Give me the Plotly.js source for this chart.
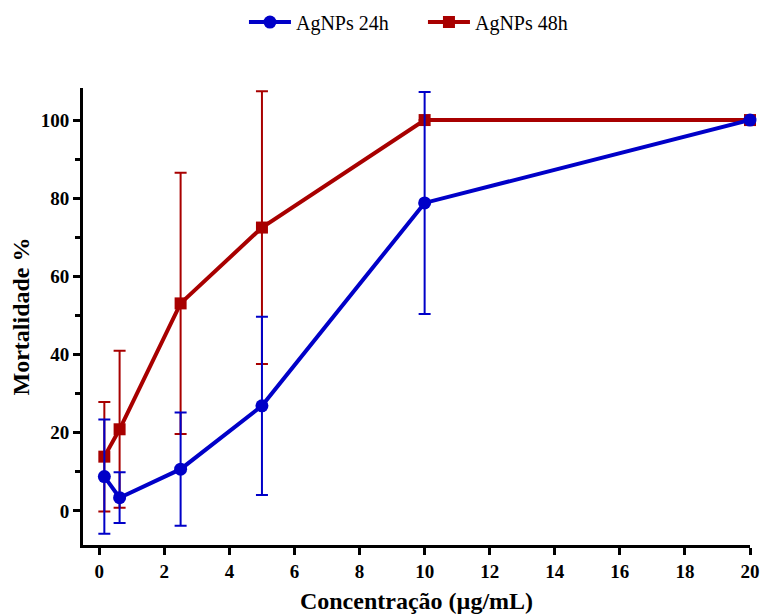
<!DOCTYPE html>
<html>
<head>
<meta charset="utf-8">
<script src="https://cdn.plot.ly/plotly-3.0.1.min.js"></script>
<style>html,body{margin:0;padding:0;background:#fff}#chart{width:760px;height:614px}</style>
</head>
<body>
<div id="chart"></div>
<script>
const concentrations = [0.156, 0.625, 2.5, 5, 10, 20];
const mort24 = [8.8, 3.4, 10.7, 26.9, 78.8, 100];
const err24 = [14.6, 6.5, 14.5, 22.8, 28.4, 0];
const mort48 = [13.9, 20.9, 53.1, 72.5, 100, 100];
const err48 = [14.0, 20.1, 33.4, 34.9, 0, 0];
const yTicks = [0, 20, 40, 60, 80, 100];
const xTicks = [0, 2, 4, 6, 8, 10, 12, 14, 16, 18, 20];

const blue = '#0000C8';
const red = '#A80000';
const font = 'Liberation Serif, Times New Roman, serif';

const traces = [
  {
    x: concentrations, y: mort48, name: 'AgNPs 48h', type: 'scatter', mode: 'lines+markers',
    line: {color: red, width: 4}, marker: {symbol: 'square', size: 12, color: red},
    error_y: {type: 'data', array: err48, visible: true, color: red, thickness: 2, width: 6},
    cliponaxis: false, legendrank: 2
  },
  {
    x: concentrations, y: mort24, name: 'AgNPs 24h', type: 'scatter', mode: 'lines+markers',
    line: {color: blue, width: 4}, marker: {symbol: 'circle', size: 13, color: blue},
    error_y: {type: 'data', array: err24, visible: true, color: blue, thickness: 2, width: 6},
    cliponaxis: false, legendrank: 1
  }
];

const layout = {
  width: 760, height: 614,
  margin: {l: 83, r: 10, t: 88, b: 69, autoexpand: false},
  paper_bgcolor: '#fff', plot_bgcolor: '#fff',
  font: {family: font, color: '#000'},
  showlegend: true,
  legend: {orientation: 'h', x: 0.321, xref: 'container', xanchor: 'left', y: 0.964, yref: 'container', yanchor: 'middle',
           font: {family: font, size: 20, color: '#000'}, itemwidth: 42, entrywidth: 122, entrywidthmode: 'pixels', traceorder: 'normal'},
  xaxis: {
    range: [-0.5, 20], tickvals: xTicks, ticktext: xTicks.map(String),
    showgrid: false, zeroline: false, showline: true, linecolor: '#000', linewidth: 3,
    ticks: 'outside', ticklen: 7, tickwidth: 3, tickcolor: '#000',
    tickfont: {family: font, size: 19, color: '#000', weight: 'bold'},
    title: {text: '<b>Concentração (µg/mL)</b>', font: {family: font, size: 24, color: '#000'}, standoff: 16}
  },
  yaxis: {
    range: [-8.7, 108.2], tickvals: yTicks, ticktext: yTicks.map(String),
    showgrid: false, zeroline: false, showline: true, linecolor: '#000', linewidth: 3,
    ticks: 'outside', ticklen: 7, tickwidth: 3, tickcolor: '#000',
    minor: {tickvals: [10, 30, 50, 70, 90], ticks: 'outside', ticklen: 5, tickwidth: 3, tickcolor: '#000', showgrid: false},
    tickfont: {family: font, size: 19, color: '#000', weight: 'bold'},
    title: {text: '<b>Mortalidade %</b>', font: {family: font, size: 24, color: '#000'}, standoff: 5}
  }
};

Plotly.newPlot('chart', traces, layout, {displayModeBar: false, staticPlot: true});
</script>
</body>
</html>
